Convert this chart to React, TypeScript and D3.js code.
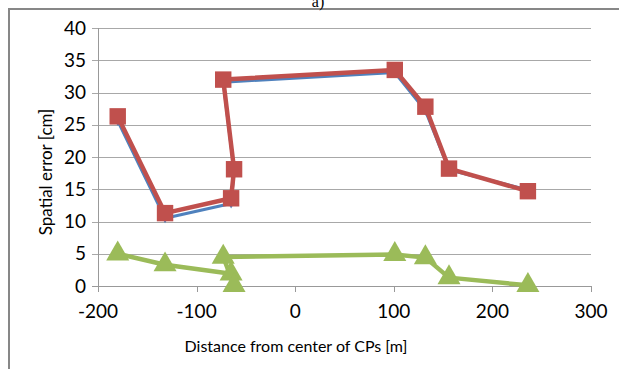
import * as d3 from "d3";
import { useEffect, useRef } from "react";

const WIDTH = 619;
const HEIGHT = 369;

// distance from center of CPs [m], same x for all three series
const distances = [-180, -132, -65, -62, -73, 101, 132, 156, 236];
const blueErrors = [25.6, 10.5, 12.8, 17.8, 31.6, 33.1, 27.2, 18.0, 14.9];
const redErrors = [26.3, 11.3, 13.6, 18.1, 32.0, 33.5, 27.8, 18.2, 14.7];
const greenErrors = [5.0, 3.3, 1.9, 0.1, 4.5, 4.9, 4.4, 1.3, 0.1];

const xTicks = [-200, -100, 0, 100, 200, 300];
const yTicks = [0, 5, 10, 15, 20, 25, 30, 35, 40];

const FONT = "Lato, 'Liberation Sans', sans-serif";

export default function App() {
  const ref = useRef<SVGSVGElement>(null);

  useEffect(() => {
    const svg = d3.select(ref.current);
    svg.selectAll("*").remove();

    const x = d3.scaleLinear().domain([-200, 300]).range([98, 591]);
    const y = d3.scaleLinear().domain([0, 40]).range([286, 28]);

    svg.append("rect").attr("width", WIDTH).attr("height", HEIGHT).attr("fill", "#fff");

    // outer frame (runs off the right and bottom edges)
    svg
      .append("rect")
      .attr("x", 9)
      .attr("y", 9)
      .attr("width", 800)
      .attr("height", 600)
      .attr("fill", "none")
      .attr("stroke", "#878787")
      .attr("stroke-width", 2);

    svg
      .append("text")
      .attr("x", 318)
      .attr("y", 7)
      .attr("text-anchor", "middle")
      .attr("font-family", "'Liberation Serif', serif")
      .attr("font-size", 16)
      .text("a)");

    // gridlines
    svg
      .append("g")
      .selectAll("line")
      .data(yTicks)
      .join("line")
      .attr("x1", x(-200) - 6)
      .attr("x2", x(300))
      .attr("y1", (d) => Math.round(y(d)) + 0.5)
      .attr("y2", (d) => Math.round(y(d)) + 0.5)
      .attr("stroke", (d) => (d === 0 ? "#999" : "#a8a8a8"))
      .attr("stroke-width", 1);

    // y axis line
    svg
      .append("line")
      .attr("x1", x(-200) + 0.5)
      .attr("x2", x(-200) + 0.5)
      .attr("y1", y(40))
      .attr("y2", y(0))
      .attr("stroke", "#999");

    // x tick marks
    svg
      .append("g")
      .selectAll("line")
      .data(xTicks)
      .join("line")
      .attr("x1", (d) => Math.round(x(d)) + 0.5)
      .attr("x2", (d) => Math.round(x(d)) + 0.5)
      .attr("y1", y(0))
      .attr("y2", y(0) + 6)
      .attr("stroke", "#999");

    svg
      .append("g")
      .selectAll("text")
      .data(yTicks)
      .join("text")
      .attr("x", 86)
      .attr("y", (d) => y(d))
      .attr("dy", "0.35em")
      .attr("text-anchor", "end")
      .attr("font-family", FONT)
      .attr("font-size", 19)
      .attr("fill", "#000")
      .text((d) => d);

    svg
      .append("g")
      .selectAll("text")
      .data(xTicks)
      .join("text")
      .attr("x", (d) => x(d))
      .attr("y", y(0) + 32)
      .attr("text-anchor", "middle")
      .attr("font-family", FONT)
      .attr("font-size", 19)
      .attr("fill", "#000")
      .text((d) => d);

    svg
      .append("text")
      .attr("x", 296)
      .attr("y", 352)
      .attr("text-anchor", "middle")
      .attr("font-family", FONT)
      .attr("font-size", 16)
      .attr("fill", "#000")
      .text("Distance from center of CPs [m]");

    svg
      .append("text")
      .attr("transform", `translate(52,${172}) rotate(-90)`)
      .attr("text-anchor", "middle")
      .attr("font-family", FONT)
      .attr("font-size", 17)
      .attr("fill", "#000")
      .text("Spatial error [cm]");

    const series = [
      { values: blueErrors, color: "#4F81BD", width: 3, shape: d3.symbolDiamond, size: 30 },
      { values: redErrors, color: "#C0504D", width: 4.5, shape: d3.symbolSquare, size: 270 },
      { values: greenErrors, color: "#9BBB59", width: 4.5, shape: d3.symbolTriangle, size: 230 },
    ];

    const line = d3
      .line<[number, number]>()
      .x((d) => x(d[0]))
      .y((d) => y(d[1]));

    series.forEach((s) => {
      const pts: [number, number][] = distances.map((dx, i) => [dx, s.values[i]]);
      const g = svg.append("g");
      g.append("path")
        .attr("d", line(pts))
        .attr("fill", "none")
        .attr("stroke", s.color)
        .attr("stroke-width", s.width)
        .attr("stroke-linejoin", "round");
      g.selectAll("path.m")
        .data(pts)
        .join("path")
        .attr("class", "m")
        .attr("transform", (d) => `translate(${x(d[0])},${y(d[1])})`)
        .attr("d", d3.symbol().type(s.shape).size(s.size)())
        .attr("fill", s.color);
    });
  }, []);

  return (
    <svg
      ref={ref}
      width={WIDTH}
      height={HEIGHT}
      viewBox={`0 0 ${WIDTH} ${HEIGHT}`}
      style={{ position: "absolute", left: 0, top: 0 }}
    />
  );
}
